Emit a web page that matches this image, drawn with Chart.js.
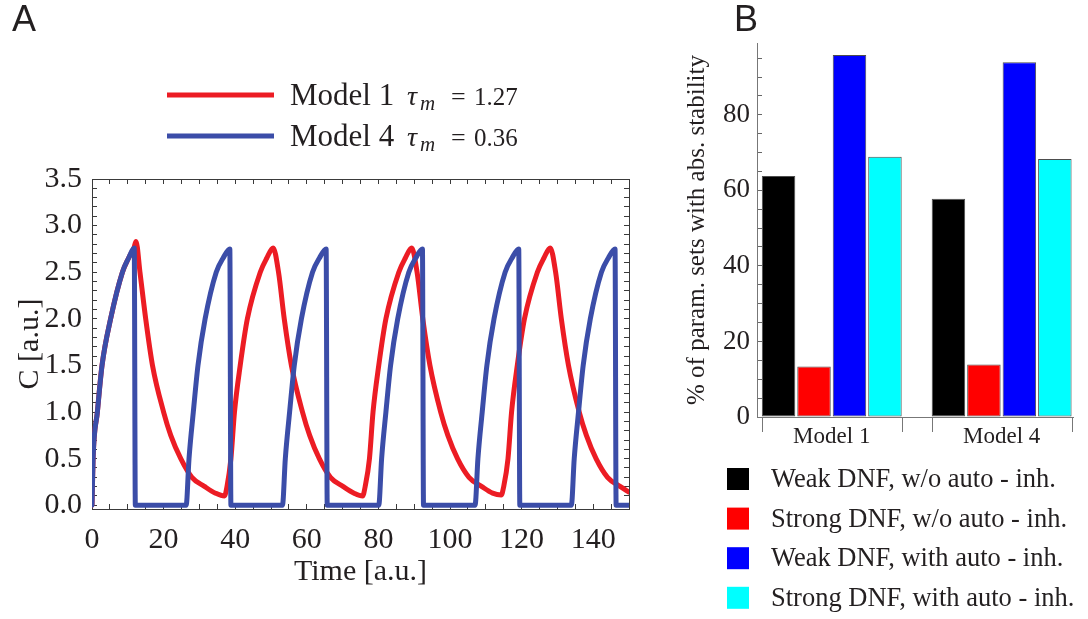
<!DOCTYPE html>
<html><head><meta charset="utf-8">
<script src="https://cdn.jsdelivr.net/npm/chart.js@4.4.1/dist/chart.umd.min.js"></script>
<style>
html,body{margin:0;padding:0;background:#fff;}
body{width:1088px;height:619px;position:relative;overflow:hidden;}
#wa{position:absolute;left:0;top:0;width:660px;height:619px;}
#wb{position:absolute;left:660px;top:0;width:428px;height:619px;}
</style></head><body>
<div id="wa"><canvas id="cA" width="660" height="619"></canvas></div>
<div id="wb"><canvas id="cB" width="428" height="619"></canvas></div>
<script>
const SERIF = "'Liberation Serif', 'Times New Roman', Times, serif";
const SANS = "'Liberation Sans', Arial, sans-serif";
const INK = '#231f20';

// ---------- Panel A data ----------
const model1Time = [0, 0.3, 1.5, 2.8, 5.2, 8.5, 10.2, 11.7, 12.3,
  13.4, 15.0, 16.9, 20.0, 22.0, 24.8, 27.9, 31.5, 34.5, 37.0,
  37.7, 38.8, 39.8, 41.4, 43.4, 47.0, 48.8, 50.6,
  52.1, 53.7, 55.7, 58.8, 60.8, 63.5, 66.6, 70.2, 73.2, 75.6,
  76.3, 77.5, 78.5, 80.1, 82.1, 85.7, 87.5, 89.3,
  90.8, 92.4, 94.4, 97.4, 99.4, 102.1, 105.3, 108.9, 111.9, 114.3,
  115.0, 116.2, 117.2, 118.8, 120.8, 124.4, 126.2, 128.0,
  129.5, 131.1, 133.1, 136.1, 138.1, 140.8, 144.0, 147.6, 150];
const model1Conc = [0, 0.5, 1.0, 1.5, 2.0, 2.5, 2.65, 2.76, 2.83,
  2.5, 2.0, 1.5, 1.0, 0.75, 0.5, 0.3, 0.2, 0.13, 0.1,
  0.2, 0.5, 1.0, 1.5, 2.0, 2.5, 2.65, 2.76,
  2.5, 2.0, 1.5, 1.0, 0.75, 0.5, 0.3, 0.2, 0.13, 0.1,
  0.2, 0.5, 1.0, 1.5, 2.0, 2.5, 2.65, 2.76,
  2.5, 2.0, 1.5, 1.0, 0.75, 0.5, 0.3, 0.2, 0.13, 0.11,
  0.2, 0.5, 1.0, 1.5, 2.0, 2.5, 2.65, 2.76,
  2.5, 2.0, 1.5, 1.0, 0.75, 0.5, 0.3, 0.2, 0.14];
const model4Time = [0, 0.3, 1.5, 2.8, 5.2, 8.5, 10.2, 11.8, 12.1,
  26.3, 27.1, 28.3, 29.6, 31.6, 34.7, 36.6, 38.5, 38.8,
  53.2, 54.0, 55.2, 56.5, 58.5, 61.6, 63.5, 65.4, 65.7,
  80.1, 80.9, 82.1, 83.4, 85.4, 88.5, 90.4, 92.3, 92.6,
  107.0, 107.8, 109.0, 110.3, 112.3, 115.4, 117.3, 119.2, 119.5,
  133.9, 134.7, 135.9, 137.2, 139.2, 142.3, 144.2, 146.1, 146.4,
  150];
const model4Conc = [0, 0.5, 1.0, 1.5, 2.0, 2.5, 2.65, 2.76, 0,
  0, 0.5, 1.0, 1.5, 2.0, 2.5, 2.65, 2.75, 0,
  0, 0.5, 1.0, 1.5, 2.0, 2.5, 2.65, 2.75, 0,
  0, 0.5, 1.0, 1.5, 2.0, 2.5, 2.65, 2.75, 0,
  0, 0.5, 1.0, 1.5, 2.0, 2.5, 2.65, 2.75, 0,
  0, 0.5, 1.0, 1.5, 2.0, 2.5, 2.65, 2.75, 0,
  0];
const seriesNamesA = ['Model 1', 'Model 4'];
const tauValues = ['1.27', '0.36'];
const colorsA = ['#ec1c24', '#3b4da8'];
const timeMin = 0, timeMax = 150, timeStep = 5, timeLabelStep = 20;
const concMin = -0.04, concMax = 3.5, concStep = 0.1, concLabelStep = 0.5;
const titleA_x = 'Time [a.u.]';
const titleA_y = 'C [a.u.]';

// ---------- Panel B data ----------
const categories = ['Model 1', 'Model 4'];
const weakNoAuto = [63.8, 57.8];
const strongNoAuto = [13.4, 13.9];
const weakAuto = [95.8, 93.9];
const strongAuto = [68.9, 68.3];
const seriesNamesB = ['Weak DNF, w/o auto - inh.', 'Strong DNF, w/o auto - inh.',
  'Weak DNF, with auto - inh.', 'Strong DNF, with auto - inh.'];
const colorsB = ['#000000', '#ff0000', '#0000ff', '#00ffff'];
const pctMin = 0, pctMax = 99, pctStep = 5, pctLabelStep = 20;
const titleB_y = '% of param. sets with abs. stability';

const toPoints = (xs, ys) => xs.map((x, i) => ({x: x, y: ys[i]}));
const isMult = (v, s) => Math.abs(v / s - Math.round(v / s)) < 1e-6;
// ticks at multiples of the step that lie inside [lo, hi]
const stepTicks = (lo, hi, step) => {
  const out = [];
  for (let k = Math.ceil(lo / step - 1e-9); k * step <= hi + 1e-9; k++) out.push({value: Math.round(k * step * 1e6) / 1e6});
  return out;
};

// ---------- Panel A ----------
const frameColor = '#3a3a3a';
const inwardGrid = () => ({drawOnChartArea: false, drawTicks: true, tickLength: -5, tickColor: frameColor, tickWidth: 1});
const frameBorder = {display: true, color: frameColor, width: 1};

const legendA = {
  id: 'legendA',
  afterDraw(chart) {
    const ctx = chart.ctx;
    const rowY = [95, 136];
    ctx.save();
    ctx.font = `36px ${SANS}`; ctx.fillStyle = INK; ctx.textBaseline = 'alphabetic'; ctx.textAlign = 'left';
    ctx.fillText('A', 12, 31);
    chart.data.datasets.forEach((ds, i) => {
      const y = rowY[i];
      ctx.strokeStyle = ds.borderColor; ctx.lineWidth = 5; ctx.lineCap = 'butt';
      ctx.beginPath(); ctx.moveTo(167, y); ctx.lineTo(274, y); ctx.stroke();
      ctx.fillStyle = INK;
      const base = y + 10;
      ctx.font = `31px ${SERIF}`; ctx.fillText(ds.label, 290, base);
      ctx.font = `italic 28px ${SERIF}`; ctx.fillText('\u03C4', 407, base);
      ctx.font = `italic 21px ${SERIF}`; ctx.fillText('m', 420, base + 5);
      ctx.font = `26px ${SERIF}`; ctx.fillText('=', 451, base);
      ctx.font = `25px ${SERIF}`; ctx.fillText(tauValues[i], 474, base);
    });
    ctx.restore();
  }
};

new Chart(document.getElementById('cA'), {
  type: 'line',
  data: {
    datasets: [
      {label: seriesNamesA[0], data: toPoints(model1Time, model1Conc), borderColor: colorsA[0], order: 1, xAxisID: 'x', yAxisID: 'y'},
      {label: seriesNamesA[1], data: toPoints(model4Time, model4Conc), borderColor: colorsA[1], order: 0, xAxisID: 'x', yAxisID: 'y'}
    ]
  },
  options: {
    responsive: false, animation: false, events: [],
    layout: {padding: 0},
    plugins: {legend: {display: false}, tooltip: {enabled: false}, title: {display: false}},
    elements: {
      point: {radius: 0},
      line: {borderWidth: 5, cubicInterpolationMode: 'monotone', borderJoinStyle: 'round', borderCapStyle: 'round', fill: false}
    },
    scales: {
      x: {
        type: 'linear', position: 'bottom', min: timeMin, max: timeMax, bounds: 'data',
        afterBuildTicks: s => { s.ticks = stepTicks(timeMin, timeMax, timeStep); },
        ticks: {autoSkip: false, maxRotation: 0,
          callback: v => isMult(v, timeLabelStep) ? String(v) : '',
          font: {family: SERIF, size: 30}, color: INK, padding: 18},
        grid: inwardGrid(), border: frameBorder,
        title: {display: true, text: titleA_x, font: {family: SERIF, size: 30}, color: INK, padding: {top: 0, bottom: 29}},
        afterFit: s => { s.height = 110; }
      },
      x2: {
        type: 'linear', position: 'top', min: timeMin, max: timeMax, bounds: 'data',
        afterBuildTicks: s => { s.ticks = stepTicks(timeMin, timeMax, timeStep); },
        ticks: {display: false, autoSkip: false},
        grid: inwardGrid(), border: frameBorder,
        afterFit: s => { s.height = 179; }
      },
      y: {
        type: 'linear', position: 'left', min: concMin, max: concMax, bounds: 'data',
        afterBuildTicks: s => { s.ticks = stepTicks(concMin, concMax, concStep); },
        ticks: {autoSkip: false,
          callback: v => isMult(v, concLabelStep) ? Number(v).toFixed(1) : '',
          font: {family: SERIF, size: 30}, color: INK, padding: 15},
        grid: inwardGrid(), border: frameBorder,
        title: {display: true, text: titleA_y, font: {family: SERIF, size: 30}, color: INK, padding: {top: 12, bottom: 0}},
        afterFit: s => { s.width = 92; }
      },
      y2: {
        type: 'linear', position: 'right', min: concMin, max: concMax, bounds: 'data',
        afterBuildTicks: s => { s.ticks = stepTicks(concMin, concMax, concStep); },
        ticks: {display: false, autoSkip: false},
        grid: inwardGrid(), border: frameBorder,
        afterFit: s => { s.width = 31; }
      }
    }
  },
  plugins: [legendA]
});

// ---------- Panel B ----------
const categoryPos = categories.map((c, i) => i + 1);
const seriesB = [weakNoAuto, strongNoAuto, weakAuto, strongAuto];

const legendB = {
  id: 'legendB',
  afterDraw(chart) {
    const ctx = chart.ctx;
    ctx.save();
    ctx.font = `36px ${SANS}`; ctx.fillStyle = INK; ctx.textBaseline = 'alphabetic'; ctx.textAlign = 'left';
    ctx.fillText('B', 74, 31);
    // category group edge marks under the axis
    const metas = chart.getSortedVisibleDatasetMetas();
    const first = metas[0], last = metas[metas.length - 1];
    const yb = chart.chartArea.bottom;
    ctx.strokeStyle = '#777'; ctx.lineWidth = 1;
    first.data.forEach((bar, i) => {
      const lb = last.data[i];
      const edges = [bar.x - bar.width / 2, lb.x + lb.width / 2];
      edges.forEach(px => {
        const p = Math.round(px) + 0.5;
        ctx.beginPath(); ctx.moveTo(p, yb); ctx.lineTo(p, yb + 15); ctx.stroke();
      });
    });
    // legend
    ctx.textBaseline = 'middle';
    chart.data.datasets.forEach((ds, i) => {
      const cy = 479 + i * 39.6;
      ctx.fillStyle = ds.backgroundColor;
      ctx.fillRect(67, cy - 11, 22, 22);
      ctx.fillStyle = INK;
      ctx.font = `26.5px ${SERIF}`;
      ctx.fillText(ds.label, 111, cy + 1);
    });
    ctx.restore();
  }
};

new Chart(document.getElementById('cB'), {
  type: 'bar',
  data: {
    datasets: seriesB.map((vals, k) => ({
      label: seriesNamesB[k],
      data: toPoints(categoryPos, vals),
      backgroundColor: colorsB[k],
      borderColor: '#4d4d4d', borderWidth: 1, borderSkipped: false,
      categoryPercentage: 0.835, barPercentage: 0.944
    }))
  },
  options: {
    responsive: false, animation: false, events: [],
    layout: {padding: {top: 43, right: 15, left: 0, bottom: 0}},
    plugins: {legend: {display: false}, tooltip: {enabled: false}, title: {display: false}},
    scales: {
      x: {
        type: 'linear', position: 'bottom', min: 0.56, max: 2.42, bounds: 'data', offset: false,
        afterBuildTicks: s => { s.ticks = categoryPos.map(v => ({value: v})); },
        ticks: {callback: (v, i) => categories[i], autoSkip: false, maxRotation: 0,
          font: {family: SERIF, size: 23}, color: INK, padding: 6},
        grid: {drawOnChartArea: false, drawTicks: false, offset: false},
        border: {display: true, color: '#777', width: 1},
        afterFit: s => { s.height = 202; }
      },
      y: {
        type: 'linear', position: 'left', min: pctMin, max: pctMax, bounds: 'data',
        afterBuildTicks: s => { s.ticks = stepTicks(pctMin, pctMax, pctStep); },
        ticks: {autoSkip: false,
          callback: v => isMult(v, pctLabelStep) ? String(v) : '',
          font: {family: SERIF, size: 27}, color: INK, padding: 12},
        grid: {drawOnChartArea: false, drawTicks: true, tickLength: -5, tickColor: '#666'},
        border: {display: true, color: '#777', width: 1},
        title: {display: true, text: titleB_y, font: {family: SERIF, size: 25}, color: INK, padding: {top: 22, bottom: 0}},
        afterFit: s => { s.width = 97; }
      }
    }
  },
  plugins: [legendB]
});
</script>
</body></html>
